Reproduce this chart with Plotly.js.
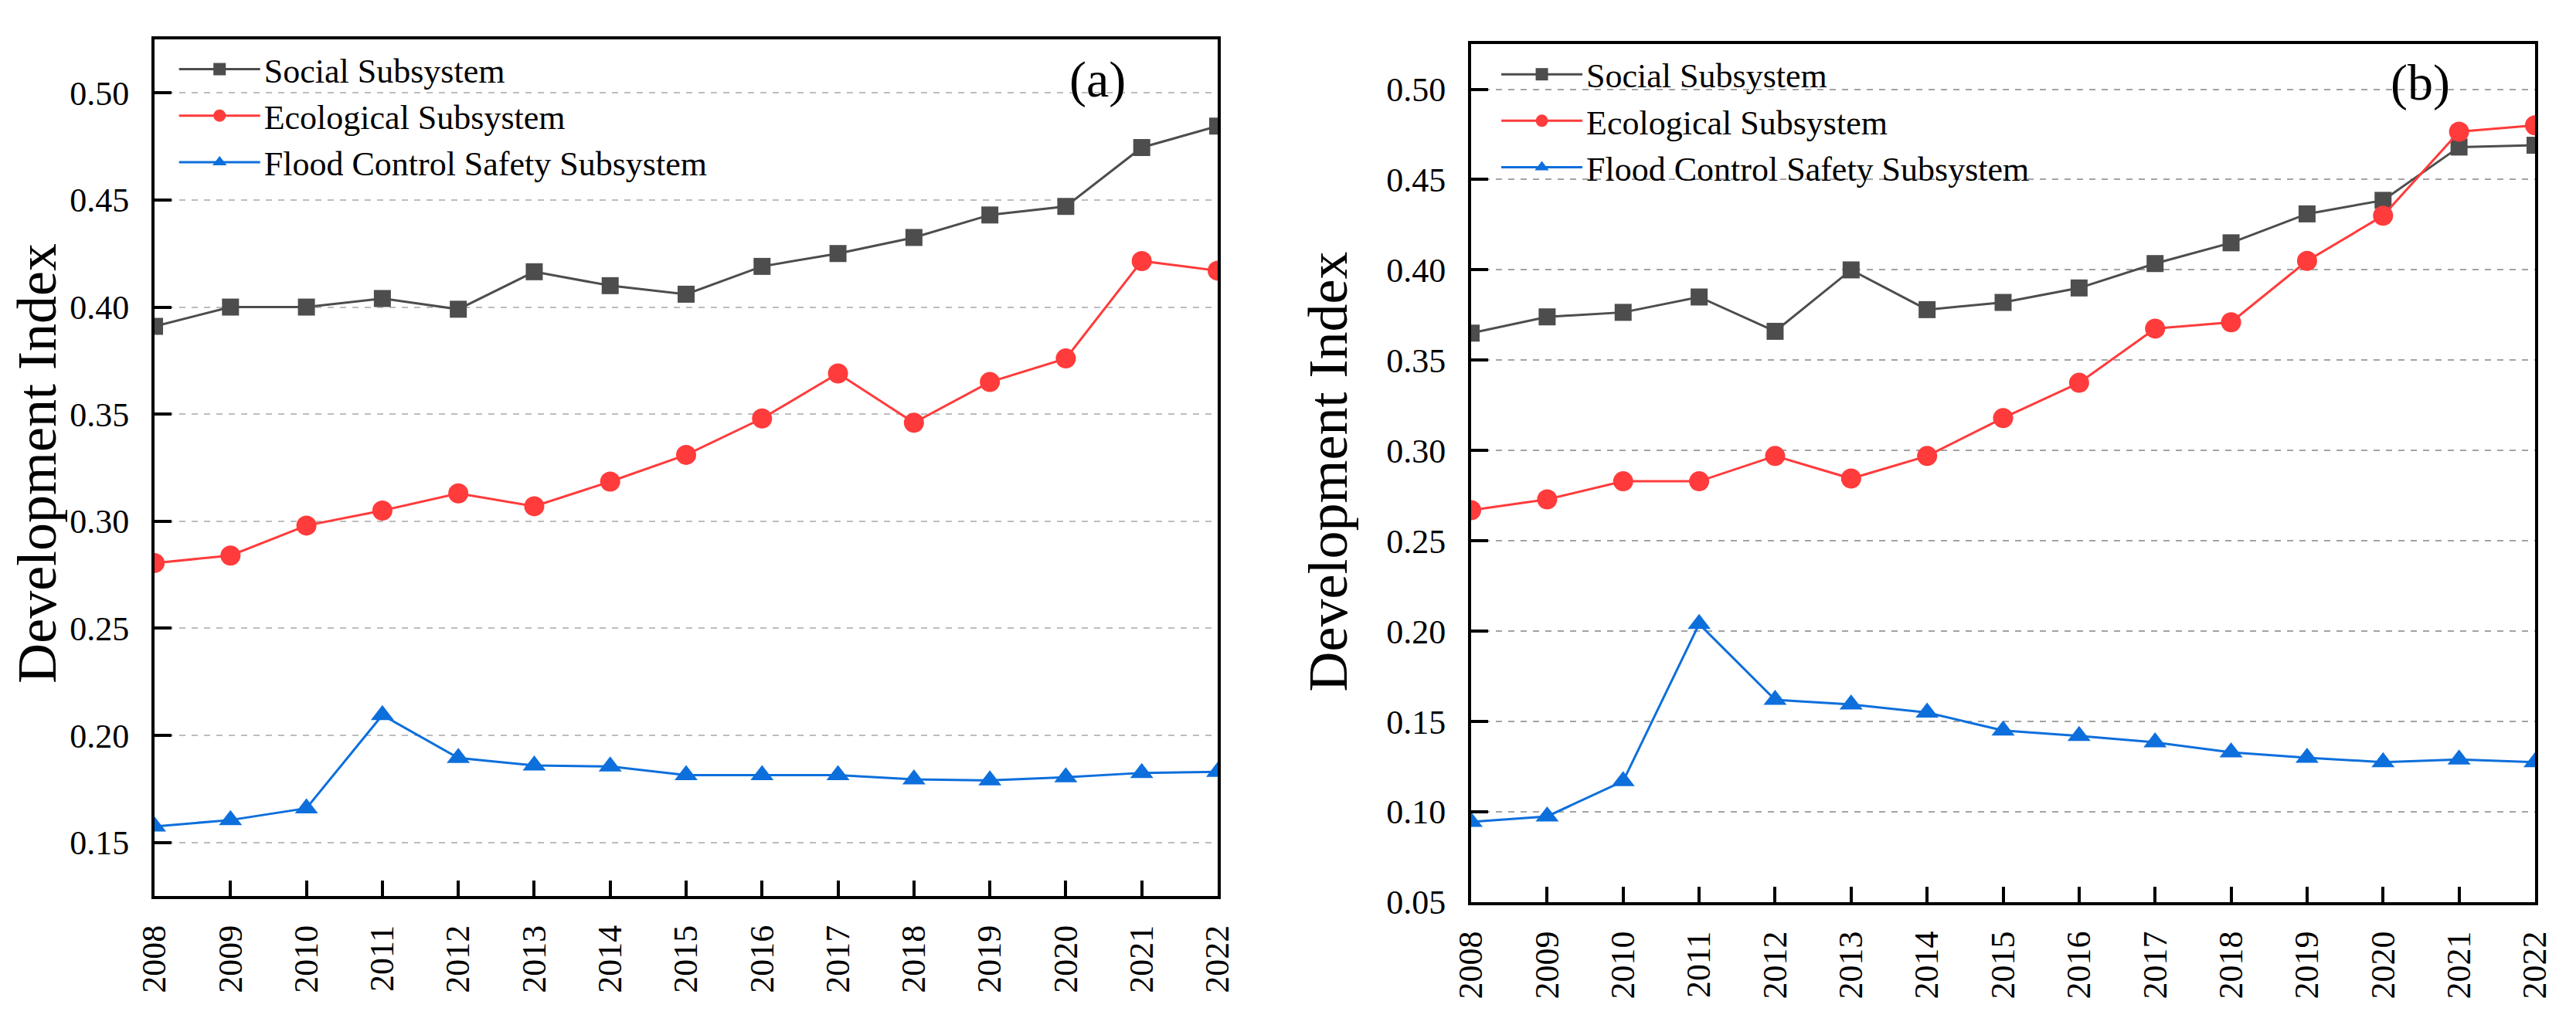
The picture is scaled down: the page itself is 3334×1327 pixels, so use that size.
<!DOCTYPE html>
<html>
<head>
<meta charset="utf-8">
<script src="https://cdn.plot.ly/plotly-3.0.1.min.js"></script>
<style>
  body { margin: 0; background: #fff; }
  #chart { width: 3334px; height: 1327px; }
</style>
</head>
<body>
<div id="chart"></div>
<script>
var years = [2008, 2009, 2010, 2011, 2012, 2013, 2014, 2015, 2016, 2017, 2018, 2019, 2020, 2021, 2022];

// panel (a)
var socialA = [0.391, 0.400, 0.400, 0.404, 0.399, 0.4165, 0.410, 0.406, 0.419, 0.425, 0.4325, 0.443, 0.447, 0.4745, 0.4845];
var ecoA = [0.2805, 0.284, 0.298, 0.305, 0.313, 0.307, 0.3185, 0.331, 0.348, 0.369, 0.346, 0.365, 0.376, 0.4215, 0.417];
var floodA = [0.1575, 0.1605, 0.166, 0.2095, 0.1895, 0.186, 0.1855, 0.1815, 0.1815, 0.1815, 0.1795, 0.179, 0.1805, 0.1825, 0.183];

// panel (b)
var socialB = [0.365, 0.374, 0.3765, 0.385, 0.366, 0.400, 0.378, 0.382, 0.390, 0.4035, 0.415, 0.431, 0.4385, 0.468, 0.469];
var ecoB = [0.267, 0.273, 0.283, 0.283, 0.297, 0.2845, 0.297, 0.318, 0.3375, 0.3675, 0.371, 0.405, 0.430, 0.4765, 0.480];
var floodB = [0.0945, 0.0975, 0.117, 0.204, 0.162, 0.1595, 0.155, 0.145, 0.142, 0.1385, 0.133, 0.130, 0.1275, 0.129, 0.1275];

var names = ['Social Subsystem', 'Ecological Subsystem', 'Flood Control Safety Subsystem'];
var colors = ['#4d4d4d', '#ff3b3b', '#0d6fdc'];
var symbols = ['square', 'circle', 'triangle-up'];
var sizes = [22, 26, 26];

var serif = 'Liberation Serif';

function makeTrace(i, yv, xa, ya, leg) {
  return {
    x: years,
    y: yv,
    name: names[i],
    type: 'scatter',
    mode: 'lines+markers',
    xaxis: xa,
    yaxis: ya,
    legend: leg,
    line: { color: colors[i], width: 3 },
    marker: { color: colors[i], symbol: symbols[i], size: sizes[i] }
  };
}

var data = [
  makeTrace(0, socialA, 'x', 'y', 'legend'),
  makeTrace(1, ecoA, 'x', 'y', 'legend'),
  makeTrace(2, floodA, 'x', 'y', 'legend'),
  makeTrace(0, socialB, 'x2', 'y2', 'legend2'),
  makeTrace(1, ecoB, 'x2', 'y2', 'legend2'),
  makeTrace(2, floodB, 'x2', 'y2', 'legend2')
];

function xAxis(dom, anchor) {
  return {
    domain: dom,
    anchor: anchor,
    range: [2008, 2022],
    tick0: 2008,
    dtick: 1,
    tickangle: -90,
    ticks: 'inside',
    ticklen: 20,
    tickwidth: 4,
    tickcolor: '#000',
    ticklabelstandoff: 16,
    showline: true,
    linewidth: 4,
    linecolor: '#000',
    mirror: true,
    showgrid: false,
    zeroline: false,
    tickfont: { family: serif, size: 44, color: '#000' }
  };
}

function yAxis(dom, anchor, rng, grid) {
  return {
    domain: dom,
    anchor: anchor,
    range: rng,
    tick0: 0,
    dtick: 0.05,
    tickformat: '.2f',
    ticks: 'inside',
    ticklen: 22,
    tickwidth: 4,
    tickcolor: '#000',
    ticklabelstandoff: 20,
    showline: true,
    linewidth: 4,
    linecolor: '#000',
    mirror: true,
    showgrid: true,
    gridcolor: grid,
    gridwidth: 2,
    griddash: '8px,8px',
    zeroline: false,
    tickfont: { family: serif, size: 44, color: '#000' }
  };
}

function legendBox(x, y) {
  return {
    x: x,
    y: y,
    xanchor: 'left',
    yanchor: 'top',
    bgcolor: 'rgba(0,0,0,0)',
    borderwidth: 0,
    itemwidth: 105,
    tracegroupgap: 0,
    font: { family: serif, size: 44, color: '#000' }
  };
}

function label(text, x, y, size, angle) {
  return {
    text: text, xref: 'paper', yref: 'paper', x: x, y: y,
    xanchor: 'center', yanchor: 'middle', showarrow: false,
    textangle: angle,
    font: { family: serif, size: size, color: '#000' }
  };
}

var layout = {
  width: 3334,
  height: 1327,
  margin: { l: 0, r: 0, t: 0, b: 0 },
  paper_bgcolor: '#fff',
  plot_bgcolor: '#fff',
  font: { family: serif, color: '#000' },
  xaxis: xAxis([0.06, 0.4727], 'y'),
  yaxis: yAxis([0.1258, 0.9616], 'x', [0.125, 0.525], '#bdbdbd'),
  xaxis2: xAxis([0.5711, 0.9841], 'y2'),
  yaxis2: yAxis([0.1198, 0.957], 'x2', [0.05, 0.525], '#a3a3a3'),
  legend: legendBox(0.068, 0.959),
  legend2: legendBox(0.5813, 0.954),
  annotations: [
    label('Development Index', 0.0144, 0.548, 72, -90),
    label('Development Index', 0.5156, 0.54, 72, -90),
    label('(a)', 0.4262, 0.9224, 66, 0),
    label('(b)', 0.9397, 0.9194, 66, 0)
  ],
  showlegend: true
};

Plotly.newPlot('chart', data, layout, { staticPlot: true });
</script>
</body>
</html>
